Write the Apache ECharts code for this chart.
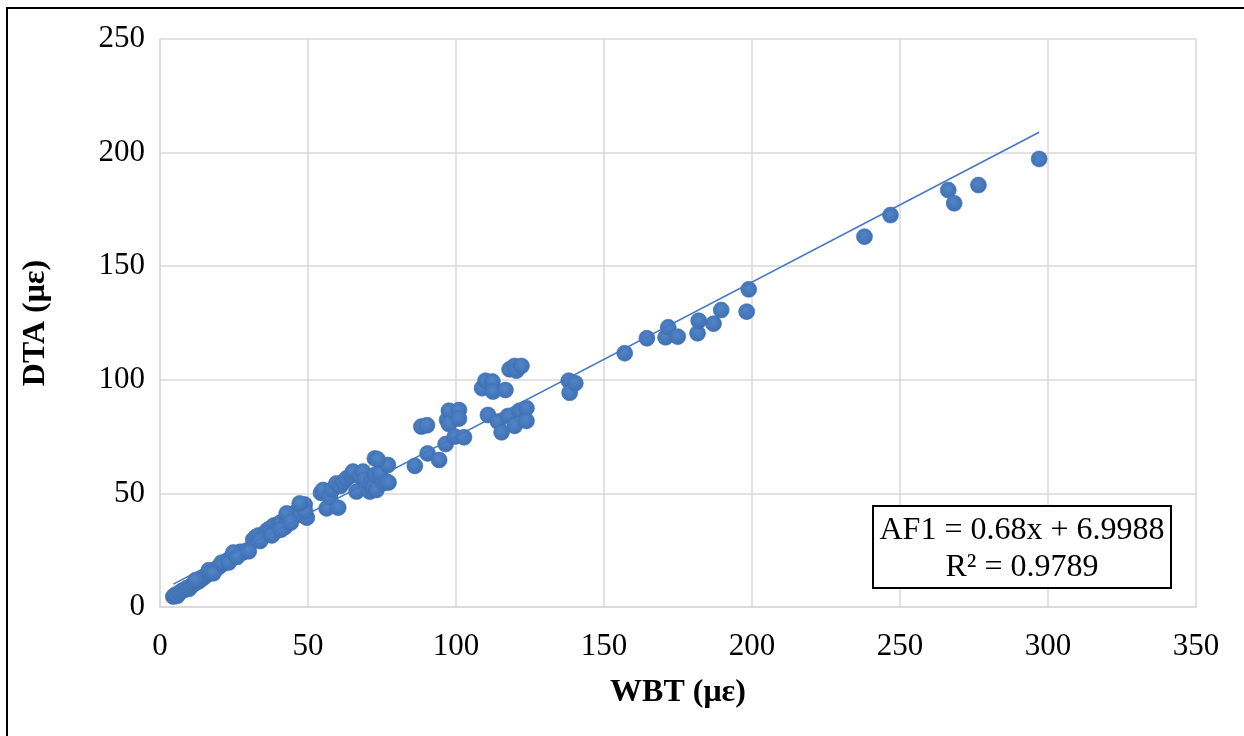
<!DOCTYPE html>
<html>
<head>
<meta charset="utf-8">
<script src="https://cdn.jsdelivr.net/npm/echarts@6/dist/echarts.min.js"></script>
<style>
  html, body { margin: 0; padding: 0; background: #fff; }
  #wrap { position: relative; width: 1244px; height: 736px; overflow: hidden; }
  #chart { position: absolute; left: 0; top: 0; width: 1244px; height: 736px; }
  #frame { position: absolute; left: 6px; top: 7px; width: 1300px; height: 800px;
           border-left: 2px solid #000; border-top: 2px solid #000; pointer-events: none; }
</style>
</head>
<body>
<div id="wrap">
  <div id="chart"></div>
  <div id="frame"></div>
</div>
<script>
// Measured strains: WBT on x, DTA on y (με)
const wbt = [
  4.5, 5.2, 5.8, 6.5, 7.4, 8.3, 9.1, 9.8, 10.6, 11.5, 12.4, 13.2, 13.9, 14.6, 15.3, 16.0,
  16.8, 17.5, 18.6, 19.4, 20.3, 21.2, 22.0, 22.9, 23.7, 24.5, 25.4, 26.3, 27.1, 28.0, 29.2,
  31.5, 32.4, 33.3, 34.5, 35.6, 36.4, 37.3, 38.5, 39.2, 40.3, 41.1, 42.2, 43.0, 43.9, 44.8,
  45.6, 46.5, 47.3, 48.2, 48.9, 49.6, 49.0, 42.8, 47.2,
  12.0, 16.5, 18.0, 20.8, 23.2, 24.8, 26.0, 30.0, 33.8, 37.8, 40.8, 44.2,
  54.4, 55.1, 56.3, 57.4, 58.2, 59.6, 60.2, 61.0, 62.0, 63.0, 64.5, 65.2, 66.4, 67.5, 68.6,
  69.2, 70.9, 71.5, 71.8, 72.0, 72.6, 72.6, 73.1, 74.3, 75.5, 76.5, 77.0, 77.2, 73.5,
  86.1, 88.3, 90.2, 90.4, 94.3, 96.5, 97.0, 97.6, 97.6, 99.6, 101.0, 101.0, 102.7,
  108.8, 110.0, 110.8, 112.3, 112.5, 114.2, 115.4, 116.7, 117.6, 118.1, 119.8, 119.8,
  120.4, 121.5, 122.1, 123.8, 123.8,
  138.1, 138.4, 140.3, 157.0, 164.5, 170.8, 171.7, 174.9, 181.6, 182.0, 187.0, 189.6,
  198.2, 198.9, 238.0, 246.8, 266.3, 268.3, 276.5, 297.0
];
const dta = [
  4.6, 5.4, 4.9, 6.2, 7.1, 7.6, 8.4, 8.0, 9.3, 10.2, 10.9, 11.4, 12.3, 12.8, 13.6, 14.4,
  15.1, 15.6, 16.3, 17.2, 18.1, 19.0, 19.8, 20.5, 21.3, 22.2, 22.6, 23.5, 24.3, 24.0, 24.8,
  29.6, 30.8, 31.5, 30.6, 32.8, 33.9, 34.6, 35.9, 33.5, 36.8, 37.4, 35.2, 38.6, 39.5, 40.1,
  41.4, 42.3, 40.6, 44.3, 45.1, 39.3, 42.0, 41.2, 45.6,
  11.8, 16.2, 14.8, 19.5, 19.6, 24.0, 22.0, 24.5, 29.0, 31.5, 34.0, 37.2,
  50.2, 51.5, 43.4, 48.5, 51.7, 54.4, 43.7, 53.3, 55.0, 56.6, 57.8, 59.6, 50.8, 57.5, 59.6,
  55.9, 50.8, 56.0, 51.8, 53.0, 58.1, 65.4, 51.5, 58.8, 54.5, 55.2, 62.5, 54.8, 65.0,
  62.1, 79.4, 80.0, 67.6, 64.7, 71.7, 82.3, 86.4, 80.5, 75.0, 86.7, 82.9, 74.7,
  96.3, 99.6, 84.5, 99.2, 94.8, 81.6, 76.9, 95.5, 84.1, 104.6, 106.1, 79.7,
  104.0, 86.4, 106.1, 87.5, 81.9,
  99.6, 94.3, 98.5, 111.7, 118.3, 118.7, 123.1, 119.0, 120.5, 126.0, 124.7, 130.7,
  130.0, 139.8, 163.0, 172.5, 183.5, 177.7, 185.7, 197.2
];

// Linear fit reported for the data set
const slope = 0.68;
const intercept = 6.9988;
const rSquared = 0.9789;

const xTicks = { min: 0, max: 350, interval: 50 };
const yTicks = { min: 0, max: 250, interval: 50 };
const xTitle = 'WBT (με)';
const yTitle = 'DTA (με)';

const points = wbt.map((x, i) => [x, dta[i]]);
const xLo = Math.min(...wbt), xHi = Math.max(...wbt);
const fitLine = [[xLo, slope * xLo + intercept], [xHi, slope * xHi + intercept]];

const serif = '"Liberation Serif", "Times New Roman", serif';
const gridColor = '#d9d9d9';

const chart = echarts.init(document.getElementById('chart'), null, { renderer: 'canvas' });
chart.setOption({
  backgroundColor: '#fff',
  animation: false,
  grid: { left: 160, right: 48, top: 39, bottom: 129, containLabel: false },
  xAxis: {
    type: 'value', min: xTicks.min, max: xTicks.max, interval: xTicks.interval,
    name: xTitle, nameLocation: 'middle', nameGap: 70,
    nameTextStyle: { fontFamily: serif, fontSize: 32, fontWeight: 'bold', color: '#000' },
    axisLine: { show: true, lineStyle: { color: gridColor, width: 1.5 } },
    axisTick: { show: false },
    axisLabel: { fontFamily: serif, fontSize: 31, color: '#000', margin: 24 },
    splitLine: { show: true, lineStyle: { color: gridColor, width: 1.5 } }
  },
  yAxis: {
    type: 'value', min: yTicks.min, max: yTicks.max, interval: yTicks.interval,
    name: yTitle, nameLocation: 'middle', nameGap: 108, nameRotate: 90,
    nameTextStyle: { fontFamily: serif, fontSize: 32, fontWeight: 'bold', color: '#000' },
    axisLine: { show: true, lineStyle: { color: gridColor, width: 1.5 } },
    axisTick: { show: false },
    axisLabel: { fontFamily: serif, fontSize: 31, color: '#000', margin: 15 },
    splitLine: { show: true, lineStyle: { color: gridColor, width: 1.5 } }
  },
  series: [
    {
      type: 'scatter',
      data: points,
      symbol: 'circle',
      symbolSize: 16,
      itemStyle: {
        opacity: 1,
        color: {
          type: 'radial', x: 0.45, y: 0.4, r: 0.6,
          colorStops: [
            { offset: 0, color: '#5284c8' },
            { offset: 1, color: '#3d6fb2' }
          ]
        },
        borderColor: '#3f70b0',
        borderWidth: 0.6
      },
      z: 2
    },
    {
      type: 'line',
      data: fitLine,
      symbol: 'none',
      lineStyle: { color: '#4677c2', width: 1.6 },
      z: 3
    }
  ],
  graphic: [
    {
      type: 'rect',
      x: 873, y: 506, z: 10,
      shape: { x: 0, y: 0, width: 298, height: 82 },
      style: { fill: '#fff', stroke: '#000', lineWidth: 2 }
    },
    {
      type: 'text',
      x: 1022, y: 512, z: 11,
      style: {
        text: 'AF1 = ' + slope + 'x + ' + intercept + '\nR² = ' + rSquared,
        fontFamily: serif,
        fontSize: 32,
        fill: '#000',
        align: 'center',
        verticalAlign: 'top',
        lineHeight: 37
      }
    }
  ]
});
</script>
</body>
</html>
